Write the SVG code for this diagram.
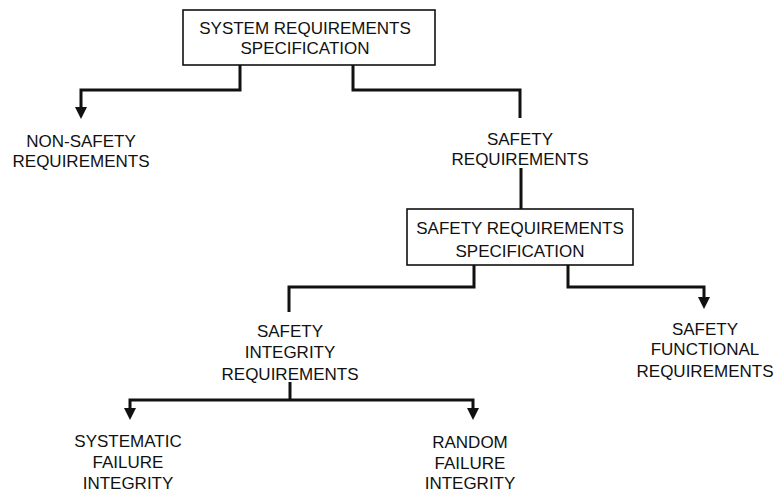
<svg xmlns="http://www.w3.org/2000/svg" width="774" height="493" viewBox="0 0 774 493">
  <style>
    .box { fill: #fff; stroke: #111; stroke-width: 1.6; }
    .lbl { font-family: "Liberation Sans", Arial, sans-serif; font-size: 17px; fill: #111; text-anchor: middle; }
    .wire { fill: none; stroke: #111; stroke-width: 3; stroke-linejoin: miter; }
    .head { fill: #111; }
  </style>
  <rect width="774" height="493" fill="#fff"/>

  <g id="connectors">
    <path class="wire" d="M240,65 V90 H81 V108"/>
    <path class="head" d="M75,107 L87,107 L81,119 Z"/>
    <path class="wire" d="M353,65 V90 H520 V118"/>
    <path class="wire" d="M521,168 V209"/>
    <path class="wire" d="M474,265 V287 H289 V312"/>
    <path class="wire" d="M568,265 V287 H704 V298"/>
    <path class="head" d="M698,297 L710,297 L704,309 Z"/>
    <path class="wire" d="M290,382 V400"/>
    <path class="wire" d="M130,410 V400 H473 V410"/>
    <path class="head" d="M124,408 L136,408 L130,420 Z"/>
    <path class="head" d="M467,408 L479,408 L473,420 Z"/>
  </g>

  <g id="system-requirements-specification">
    <rect class="box" x="183" y="10" width="252" height="55"/>
    <text class="lbl" x="305" y="34">SYSTEM REQUIREMENTS</text>
    <text class="lbl" x="305" y="54">SPECIFICATION</text>
  </g>

  <g id="non-safety-requirements">
    <text class="lbl" x="81" y="147">NON-SAFETY</text>
    <text class="lbl" x="81" y="167">REQUIREMENTS</text>
  </g>

  <g id="safety-requirements">
    <text class="lbl" x="520" y="145">SAFETY</text>
    <text class="lbl" x="520" y="165">REQUIREMENTS</text>
  </g>

  <g id="safety-requirements-specification">
    <rect class="box" x="407" y="209" width="226" height="56"/>
    <text class="lbl" x="520" y="234">SAFETY REQUIREMENTS</text>
    <text class="lbl" x="520" y="257">SPECIFICATION</text>
  </g>

  <g id="safety-integrity-requirements">
    <text class="lbl" x="290" y="337">SAFETY</text>
    <text class="lbl" x="290" y="358">INTEGRITY</text>
    <text class="lbl" x="290" y="380">REQUIREMENTS</text>
  </g>

  <g id="safety-functional-requirements">
    <text class="lbl" x="705" y="335">SAFETY</text>
    <text class="lbl" x="705" y="355">FUNCTIONAL</text>
    <text class="lbl" x="705" y="377">REQUIREMENTS</text>
  </g>

  <g id="systematic-failure-integrity">
    <text class="lbl" x="128" y="447">SYSTEMATIC</text>
    <text class="lbl" x="128" y="468">FAILURE</text>
    <text class="lbl" x="128" y="489">INTEGRITY</text>
  </g>

  <g id="random-failure-integrity">
    <text class="lbl" x="470" y="448">RANDOM</text>
    <text class="lbl" x="470" y="469">FAILURE</text>
    <text class="lbl" x="470" y="489">INTEGRITY</text>
  </g>
</svg>
